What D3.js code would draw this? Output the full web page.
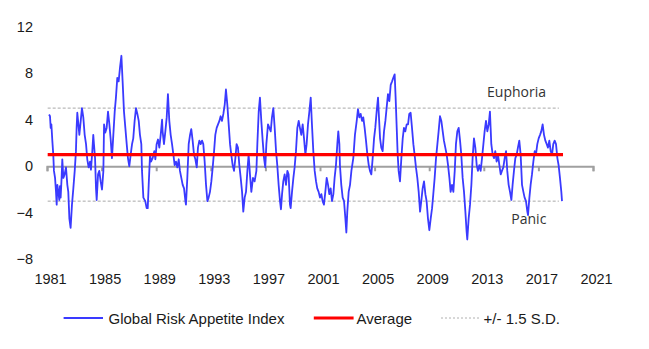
<!DOCTYPE html>
<html><head><meta charset="utf-8">
<script src="https://cdn.jsdelivr.net/npm/d3@7"></script>
<style>body{margin:0;background:#fff}svg{display:block}</style></head>
<body><svg id="c" width="649" height="349"></svg>
<script>
// ---- data ----
const years = [
1981.15,1981.22,1981.27,1981.32,1981.39,1981.46,1981.51,1981.59,1981.66,1981.71,1981.76,1981.83,1981.90,1981.95,
1982.00,1982.07,1982.12,1982.20,1982.29,1982.39,1982.49,1982.56,1982.64,1982.73,1982.83,1982.93,
1983.03,1983.12,1983.17,1983.22,1983.30,1983.37,1983.47,1983.56,1983.66,1983.76,1983.86,1983.95,
1984.05,1984.15,1984.22,1984.32,1984.39,1984.44,1984.52,1984.59,1984.64,1984.74,1984.83,1984.93,
1985.03,1985.13,1985.18,1985.27,1985.37,1985.47,1985.57,1985.66,1985.76,1985.86,1985.96,
1986.05,1986.15,1986.25,1986.35,1986.45,1986.54,1986.64,1986.74,1986.84,1986.93,
1987.03,1987.13,1987.23,1987.32,1987.42,1987.52,1987.62,1987.72,1987.81,1987.91,1987.96,
1988.06,1988.20,1988.30,1988.38,1988.45,1988.55,1988.62,1988.74,1988.86,1988.94,
1989.03,1989.13,1989.23,1989.33,1989.43,1989.47,1989.57,1989.67,1989.77,1989.86,1989.96,
1990.06,1990.16,1990.26,1990.35,1990.45,1990.55,1990.65,1990.74,1990.84,1990.94,
1991.04,1991.14,1991.18,1991.28,1991.38,1991.48,1991.57,1991.67,1991.77,1991.87,1991.97,
1992.06,1992.16,1992.26,1992.36,1992.45,1992.55,1992.65,1992.75,1992.84,1992.94,
1993.04,1993.14,1993.24,1993.33,1993.43,1993.53,1993.63,1993.72,1993.82,1993.92,
1994.02,1994.11,1994.21,1994.31,1994.41,1994.50,1994.60,1994.70,1994.80,1994.89,1994.99,
1995.09,1995.19,1995.29,1995.38,1995.48,1995.58,1995.68,1995.77,1995.87,1995.97,
1996.09,1996.21,1996.34,1996.41,1996.51,1996.60,1996.70,1996.80,1996.90,1996.99,
1997.07,1997.19,1997.29,1997.39,1997.48,1997.58,1997.68,1997.78,1997.87,1997.97,
1998.07,1998.14,1998.22,1998.31,1998.41,1998.51,1998.61,1998.70,1998.80,1998.85,1998.95,
1999.05,1999.14,1999.24,1999.34,1999.44,1999.53,1999.63,1999.73,1999.83,1999.93,
2000.02,2000.12,2000.22,2000.32,2000.41,2000.51,2000.61,2000.71,2000.80,2000.90,
2001.00,2001.10,2001.19,2001.29,2001.39,2001.49,2001.59,2001.68,2001.78,2001.88,2001.98,
2002.07,2002.17,2002.27,2002.34,2002.42,2002.46,2002.56,2002.66,2002.76,2002.86,2002.93,
2003.00,2003.10,2003.20,2003.30,2003.44,2003.56,2003.69,2003.78,2003.88,2003.98,
2004.08,2004.17,2004.27,2004.37,2004.47,2004.57,2004.66,2004.76,2004.86,2004.96,
2005.05,2005.15,2005.25,2005.30,2005.40,2005.49,2005.59,2005.69,2005.79,2005.88,2005.98,
2006.08,2006.18,2006.28,2006.37,2006.47,2006.54,2006.62,2006.69,2006.76,2006.86,2006.96,
2007.06,2007.15,2007.25,2007.35,2007.45,2007.54,2007.64,2007.74,2007.84,2007.93,
2008.03,2008.13,2008.23,2008.33,2008.42,2008.52,2008.62,2008.72,2008.81,2008.91,
2009.01,2009.11,2009.21,2009.30,2009.40,2009.50,2009.60,2009.69,2009.79,2009.89,2009.99,
2010.08,2010.18,2010.28,2010.38,2010.48,2010.57,2010.67,2010.77,2010.87,2010.96,
2011.06,2011.16,2011.26,2011.35,2011.45,2011.55,2011.65,2011.74,2011.79,2011.89,2011.99,
2012.09,2012.18,2012.28,2012.38,2012.48,2012.57,2012.67,2012.77,2012.87,2012.97,
2013.06,2013.16,2013.26,2013.36,2013.45,2013.50,2013.55,2013.65,2013.75,2013.84,2013.94,
2014.04,2014.14,2014.24,2014.33,2014.43,2014.53,2014.63,2014.72,2014.82,2014.92,
2015.02,2015.11,2015.21,2015.31,2015.41,2015.50,2015.60,2015.70,2015.80,2015.90,2015.99,
2016.09,2016.19,2016.24,2016.34,2016.43,2016.53,2016.63,2016.73,2016.82,2016.92,
2017.02,2017.12,2017.21,2017.31,2017.41,2017.51,2017.61,2017.70,2017.80,2017.90,
2018.00,2018.09,2018.19,2018.29,2018.39,2018.48,2018.58,2018.68,2018.73
];
const riskAppetite = [
4.45,4.3,3.3,3.6,2.2,1.0,-0.4,-1.0,-2.2,-3.3,-1.6,-2.2,-2.9,-1.7,
-2.7,-1.0,0.6,-1.0,-0.7,-0.1,-1.6,-2.2,-4.5,-5.3,-3.3,-1.9,
-0.4,1.3,3.3,4.6,3.6,2.7,3.9,5.0,4.2,2.7,1.9,0.6,
-0.1,0.4,-0.3,1.3,2.7,1.9,0.7,-1.9,-2.9,-0.7,-0.4,-1.3,
-2.0,-0.4,3.6,2.9,3.3,4.7,3.6,2.4,0.7,2.7,4.7,
5.9,7.6,7.3,8.5,9.5,7.3,4.7,3.3,1.9,0.7,
0.0,1.0,1.9,2.4,3.9,5.0,4.5,3.9,2.7,1.9,-0.4,
-2.7,-3.0,-3.6,-3.6,-1.6,1.0,0.4,0.7,1.3,0.6,
1.9,2.3,1.6,2.7,4.0,3.0,1.9,3.0,4.2,6.2,3.9,
2.7,1.9,1.0,0.1,0.4,-0.1,0.6,-0.4,-1.0,-1.6,
-1.9,-3.0,-3.3,-1.0,1.9,2.7,3.2,2.2,1.0,0.6,-0.1,
1.6,2.2,1.9,2.2,1.9,0.4,-1.6,-3.0,-2.7,-2.2,
-1.3,-0.1,1.3,2.7,3.3,3.6,3.9,4.3,3.9,4.5,
5.3,6.6,5.3,3.6,1.9,1.0,0.1,-0.4,0.7,1.9,1.6,
0.1,-1.0,-2.2,-3.9,-2.7,-2.2,-0.4,1.0,-0.7,-2.2,
-1.0,-1.3,-0.4,1.9,4.7,5.9,3.9,2.2,0.7,-0.1,
1.9,3.6,3.3,3.0,4.2,5.0,3.3,1.3,0.1,-1.6,
-3.0,-3.7,-2.4,-1.3,-0.7,-1.6,-0.4,-0.7,-3.3,-3.6,-2.2,
-1.0,-0.1,1.3,3.3,3.9,3.3,2.7,3.6,2.4,1.0,
1.9,3.6,4.7,5.9,3.6,1.3,-0.4,-1.3,-1.9,-2.2,
-2.7,-2.4,-3.0,-3.3,-2.2,-1.0,-1.6,-2.4,-1.9,-3.0,-2.4,
-1.0,0.1,1.9,3.0,1.9,0.1,-1.6,-2.7,-3.0,-4.5,-5.7,
-3.9,-2.2,-1.6,-0.4,0.7,2.7,3.9,4.9,4.2,4.5,
3.9,4.2,3.3,2.2,1.0,0.1,-0.4,-0.7,0.7,2.4,
3.3,4.7,5.9,4.7,2.4,1.6,1.3,3.0,3.9,5.0,6.2,
5.6,7.0,7.3,7.6,7.9,5.9,3.3,1.0,-0.4,-1.3,0.7,
2.4,3.3,3.0,3.6,3.6,4.5,4.6,3.3,1.9,1.0,
-0.1,-1.0,-2.2,-3.9,-3.0,-1.9,-1.3,-2.4,-3.0,-4.5,
-5.5,-4.5,-3.6,-2.4,-1.0,0.7,1.9,3.0,4.3,3.9,3.0,
2.2,1.6,1.0,0.1,-1.0,-2.2,-1.6,-2.2,-0.4,1.9,
3.0,3.3,2.2,1.0,-1.0,-2.2,-3.9,-5.6,-6.3,-4.5,-3.3,
-1.6,0.7,2.4,1.6,0.1,-0.4,0.1,-0.4,0.7,1.9,
3.0,3.9,3.0,3.6,4.7,3.3,1.9,1.0,0.7,1.3,0.4,
1.0,0.1,-0.7,-0.4,-0.1,0.7,1.3,-0.4,-1.6,-2.2,
-2.9,-1.6,-0.4,0.7,1.0,1.6,2.2,1.0,-1.6,-2.2,-2.7,
-3.0,-3.9,-4.2,-2.7,-1.6,-0.7,0.4,1.3,1.0,1.9,
2.4,2.7,3.0,3.6,2.7,2.2,1.9,1.6,2.2,1.3,
1.0,1.9,2.2,1.9,0.7,0.1,-1.0,-2.2,-3.0
];
const averageValue = 1.0;
const sdUpper = 5.0;
const sdLower = -3.0;
const xTickYears = [1981,1985,1989,1993,1997,2001,2005,2009,2013,2017,2021];
const yTicks = [-8,-4,0,4,8,12];
const legendLabels = ["Global Risk Appetite Index","Average","+/- 1.5 S.D."];
const zoneLabels = ["Euphoria","Panic"];

// ---- drawing ----
const svg = d3.select("#c");
const x = d3.scaleLinear().domain([1981,2021]).range([47,593]);
const y = d3.scaleLinear().domain([-8,12]).range([259.3,26.7]);
const series = years.map((t,i)=>({t, v: riskAppetite[i]}));
const [t0, t1] = d3.extent(years);
const axisFont = "'Liberation Sans', Arial, sans-serif";

// +/- 1.5 SD dashed lines
svg.append("g").selectAll("line").data([sdUpper, sdLower]).join("line")
  .attr("x1", x(1981.05)).attr("x2", x(2018.5))
  .attr("y1", d=>y(d)).attr("y2", d=>y(d))
  .attr("stroke","#a8a8a8").attr("stroke-width",1).attr("stroke-dasharray","3,2");

// zero axis with ticks
const xAxis = svg.append("g").attr("transform",`translate(0,${y(0)})`)
  .call(d3.axisBottom(x).tickValues(xTickYears).tickSize(5).tickSizeOuter(5).tickFormat(""));
xAxis.selectAll("path,line").attr("stroke","#a0a0a0").attr("stroke-width",2);

// x tick labels
const xLab = svg.append("g").attr("transform","translate(3,274)")
  .call(d3.axisBottom(x).tickValues(xTickYears).tickSize(0).tickPadding(0).tickFormat(d3.format("d")));
xLab.select(".domain").remove();
xLab.selectAll("text").attr("font-family",axisFont).attr("font-size","14.5px").attr("fill","#1a1a1a");

// y tick labels
const yLab = svg.append("g").attr("transform","translate(33,0)")
  .call(d3.axisLeft(y).tickValues(yTicks).tickSize(0).tickPadding(0));
yLab.select(".domain").remove();
yLab.selectAll("text").attr("font-family",axisFont).attr("font-size","14.5px").attr("fill","#1a1a1a");

// index line
svg.append("path").datum(series)
  .attr("fill","none").attr("stroke","#3a3aff").attr("stroke-width",1.8).attr("stroke-linejoin","round")
  .attr("d", d3.line().x(d=>x(d.t)).y(d=>y(d.v)));

// average line
svg.append("line").attr("x1",x(1981.05)).attr("x2",x(t1)+1)
  .attr("y1",y(averageValue)).attr("y2",y(averageValue))
  .attr("stroke","#ff0000").attr("stroke-width",3.2);

// zone labels
svg.append("g").selectAll("text").data(zoneLabels).join("text")
  .attr("x",(d,i)=>x([2015.4,2016.3][i]))
  .attr("y",(d,i)=> i===0 ? y(sdUpper)-11 : y(sdLower)+23)
  .attr("text-anchor","middle").attr("font-family","'Open Sans', 'Noto Sans', sans-serif")
  .attr("font-size","14px").attr("fill","#333").text(d=>d);

// legend
const lg = svg.append("g").attr("font-family",axisFont).attr("font-size","15px").attr("fill","#1a1a1a");
const legendItems = [
  {x1:63.6,x2:103,tx:108.5,stroke:"#3a3aff",w:1.8,dash:null},
  {x1:313.8,x2:353.6,tx:356.5,stroke:"#ff0000",w:3,dash:null},
  {x1:441,x2:480,tx:483.6,stroke:"#b0b0b0",w:1,dash:"2,2"}
];
legendItems.forEach((it,i)=>{
  lg.append("line").attr("x1",it.x1).attr("x2",it.x2).attr("y1",318).attr("y2",318)
    .attr("stroke",it.stroke).attr("stroke-width",it.w).attr("stroke-dasharray",it.dash);
  lg.append("text").attr("x",it.tx).attr("y",324).text(legendLabels[i]);
});
</script></body></html>
